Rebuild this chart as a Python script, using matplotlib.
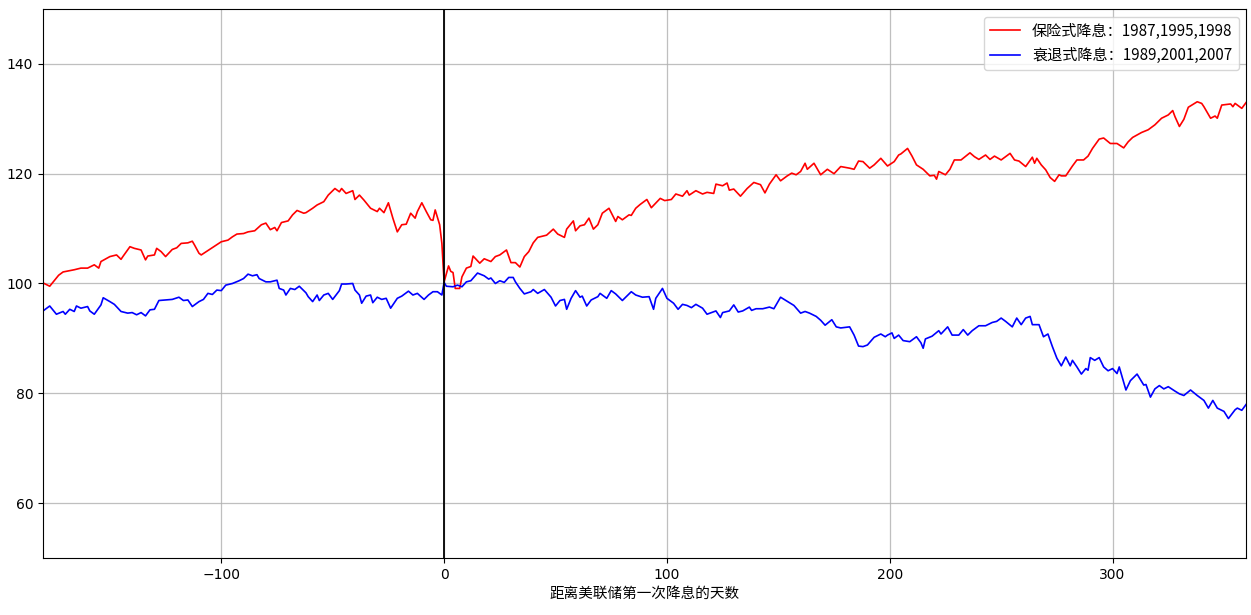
import matplotlib
matplotlib.use("Agg")
import matplotlib.pyplot as plt

plt.rcParams['font.family'] = ['DejaVu Sans', 'Noto Sans CJK SC']
plt.rcParams['axes.unicode_minus'] = True

insurance_label = "保险式降息：1987,1995,1998"
recession_label = "衰退式降息：1989,2001,2007"
x_label = "距离美联储第一次降息的天数"

ins_days = [-180, -177, -173, -171, -166, -163, -160, -157, -155, -154, -150, -147, -145, -144, -141, -139, -136, -134, -133, -130,
            -129, -127, -125, -122, -120, -118, -115, -113, -112, -110, -109, -106, -103, -100, -97, -95, -93, -90, -88, -85,
            -82, -80, -78, -76, -75, -73, -70, -68, -66, -63, -62, -59, -57, -54, -52, -49, -47, -46, -44, -41,
            -40, -38, -36, -33, -30, -29, -27, -25, -23, -21, -19, -17, -15, -13, -12, -10, -8, -6, -5, -4,
            -2, -1, 0, 2, 3, 4, 5, 7, 8, 10, 12, 13, 16, 18, 21, 23, 25, 28, 30, 32,
            34, 36, 38, 40, 42, 46, 49, 51, 54, 55, 58, 59, 61, 63, 65, 67, 69, 71, 74, 77,
            78, 80, 83, 84, 86, 88, 91, 93, 97, 99, 102, 104, 107, 109, 110, 113, 116, 118, 121, 122,
            125, 127, 128, 130, 133, 136, 139, 142, 144, 146, 149, 151, 154, 156, 158, 160, 162, 163, 166, 169,
            172, 175, 178, 182, 184, 186, 188, 191, 193, 196, 199, 202, 204, 205, 208, 210, 212, 215, 218, 220,
            221, 222, 225, 227, 229, 232, 236, 238, 240, 243, 245, 247, 250, 254, 256, 258, 261, 264, 265, 266,
            268, 270, 272, 274, 276, 277, 279, 282, 284, 287, 289, 291, 294, 296, 299, 302, 305, 307, 309, 313,
            316, 319, 322, 325, 327, 328, 330, 332, 334, 338, 340, 341, 344, 346, 347, 349, 353, 354, 355, 358, 360]
ins_vals = [100.1, 99.5, 101.5, 102.1, 102.5, 102.8, 102.8, 103.4, 102.8, 104.0, 104.9, 105.2, 104.4, 105.0, 106.7, 106.4, 106.1, 104.3, 105.0, 105.2,
            106.4, 105.8, 104.9, 106.2, 106.5, 107.3, 107.4, 107.7, 107.0, 105.5, 105.2, 106.0, 106.8, 107.6, 107.9, 108.5, 109.0, 109.1, 109.4, 109.6,
            110.7, 111.0, 109.8, 110.2, 109.6, 111.1, 111.4, 112.5, 113.3, 112.8, 112.9, 113.7, 114.3, 114.9, 116.1, 117.3, 116.7, 117.3, 116.4, 116.9,
            115.3, 116.1, 115.2, 113.7, 113.1, 113.7, 112.9, 114.7, 111.9, 109.4, 110.7, 110.8, 112.8, 111.9, 113.1, 114.7, 113.1, 111.6, 111.5, 113.4,
            110.7, 107.3, 100.3, 103.2, 102.2, 102.0, 99.1, 99.1, 101.2, 102.8, 103.1, 105.0, 103.7, 104.5, 104.0, 104.9, 105.2, 106.1, 103.8, 103.8,
            103.0, 104.9, 105.8, 107.4, 108.4, 108.8, 109.9, 109.0, 108.4, 109.9, 111.4, 109.6, 110.5, 110.7, 111.9, 109.9, 110.7, 112.8, 113.7, 111.3,
            112.2, 111.6, 112.5, 112.4, 113.7, 114.4, 115.3, 113.8, 115.5, 115.1, 115.3, 116.3, 115.9, 116.9, 116.1, 116.9, 116.3, 116.6, 116.4, 118.1,
            117.8, 118.3, 117.0, 117.2, 115.9, 117.3, 118.4, 118.0, 116.5, 118.1, 119.8, 118.7, 119.6, 120.1, 119.8, 120.4, 121.9, 120.8, 121.9, 119.8,
            120.8, 120.0, 121.3, 121.0, 120.8, 122.3, 122.2, 121.0, 121.6, 122.8, 121.4, 122.2, 123.4, 123.6, 124.6, 123.2, 121.6, 120.8, 119.6, 119.7,
            119.0, 120.4, 119.8, 120.8, 122.5, 122.5, 123.8, 123.1, 122.6, 123.4, 122.6, 123.2, 122.5, 123.7, 122.5, 122.3, 121.3, 123.0, 121.9, 122.8,
            121.6, 120.7, 119.3, 118.6, 119.8, 119.6, 119.6, 121.4, 122.5, 122.5, 123.2, 124.6, 126.3, 126.5, 125.5, 125.5, 124.7, 125.8, 126.6, 127.5,
            128.0, 128.9, 130.1, 130.7, 131.5, 130.4, 128.6, 129.9, 132.1, 133.1, 132.8, 132.2, 130.1, 130.5, 130.1, 132.5, 132.7, 132.2, 132.8, 131.9, 133.0]

rec_days = [-180, -177, -174, -171, -170, -168, -166, -165, -163, -160, -159, -157, -154, -153, -150, -148, -145, -142, -140, -138,
            -136, -134, -132, -130, -128, -125, -122, -119, -117, -115, -113, -110, -108, -106, -104, -102, -100, -98, -95, -92,
            -90, -88, -86, -84, -83, -80, -78, -75, -74, -72, -71, -69, -67, -65, -62, -61, -59, -57, -56, -54,
            -52, -50, -47, -46, -44, -41, -40, -38, -37, -35, -33, -32, -30, -28, -26, -24, -21, -19, -16, -14,
            -12, -9, -7, -5, -3, -1, 0, 1, 4, 6, 8, 10, 12, 15, 18, 20, 21, 23, 25, 27,
            29, 31, 32, 34, 36, 39, 40, 42, 45, 48, 50, 52, 54, 55, 57, 59, 61, 62, 64, 66,
            69, 70, 72, 73, 75, 77, 80, 82, 84, 86, 89, 92, 94, 95, 98, 100, 103, 105, 107, 109,
            111, 113, 116, 118, 120, 122, 124, 125, 128, 130, 132, 134, 137, 138, 140, 143, 146, 148, 151, 153,
            155, 157, 160, 162, 164, 167, 169, 171, 174, 176, 178, 182, 184, 186, 188, 190, 193, 196, 198, 199,
            201, 202, 204, 206, 209, 212, 214, 215, 216, 219, 222, 223, 226, 228, 231, 233, 235, 237, 240, 243,
            246, 248, 250, 252, 255, 257, 259, 261, 263, 264, 267, 269, 271, 273, 275, 277, 279, 281, 282, 284,
            286, 288, 289, 290, 292, 294, 296, 298, 300, 302, 303, 306, 308, 311, 314, 315, 317, 319, 321, 323,
            325, 328, 330, 332, 335, 338, 341, 343, 345, 347, 350, 352, 355, 356, 358, 360]
rec_vals = [95.0, 95.9, 94.4, 94.9, 94.4, 95.3, 94.9, 95.9, 95.5, 95.8, 95.0, 94.4, 96.1, 97.4, 96.7, 96.2, 94.9, 94.6, 94.7, 94.3,
            94.7, 94.1, 95.2, 95.3, 96.9, 97.0, 97.1, 97.5, 96.9, 97.0, 95.8, 96.7, 97.1, 98.2, 98.0, 98.8, 98.7, 99.7, 100.0, 100.5,
            100.9, 101.7, 101.4, 101.6, 100.9, 100.3, 100.3, 100.6, 99.1, 98.8, 97.9, 99.1, 98.9, 99.5, 98.3, 97.6, 96.7, 97.9, 96.9, 97.9,
            98.2, 97.1, 98.7, 99.9, 99.9, 100.0, 98.8, 97.9, 96.4, 97.7, 97.9, 96.5, 97.5, 97.1, 97.3, 95.5, 97.3, 97.7, 98.6, 97.9,
            98.2, 97.1, 97.9, 98.5, 98.5, 97.9, 100.2, 99.5, 99.4, 99.7, 99.4, 100.3, 100.5, 101.9, 101.4, 100.8, 101.0, 100.0, 100.5, 100.2,
            101.1, 101.1, 100.3, 99.1, 98.1, 98.5, 98.9, 98.2, 98.9, 97.5, 95.9, 96.9, 97.1, 95.3, 97.3, 98.7, 97.5, 97.7, 95.9, 97.0,
            97.6, 98.2, 97.6, 97.3, 98.7, 98.1, 96.9, 97.7, 98.5, 97.9, 97.5, 97.6, 95.3, 97.3, 99.1, 97.3, 96.4, 95.3, 96.2, 96.0,
            95.6, 96.2, 95.5, 94.4, 94.7, 95.0, 93.8, 94.7, 95.0, 96.1, 94.8, 95.0, 95.7, 95.1, 95.4, 95.4, 95.7, 95.4, 97.5, 97.0,
            96.5, 96.0, 94.6, 94.9, 94.6, 94.0, 93.3, 92.4, 93.4, 92.1, 91.9, 92.1, 90.6, 88.6, 88.5, 88.8, 90.2, 90.8, 90.3, 90.6,
            91.0, 90.0, 90.6, 89.6, 89.4, 90.3, 89.2, 88.2, 89.9, 90.4, 91.4, 90.8, 92.1, 90.6, 90.6, 91.6, 90.6, 91.4, 92.3, 92.3,
            92.9, 93.1, 93.7, 93.1, 92.1, 93.7, 92.5, 93.7, 94.0, 92.5, 92.5, 90.3, 90.8, 88.5, 86.4, 85.0, 86.6, 85.0, 86.0, 84.8,
            83.5, 84.5, 84.2, 86.5, 86.0, 86.5, 84.8, 84.1, 84.5, 83.6, 84.8, 80.6, 82.3, 83.5, 81.5, 81.6, 79.3, 80.8, 81.4, 80.8,
            81.2, 80.4, 79.9, 79.6, 80.6, 79.6, 78.7, 77.3, 78.7, 77.3, 76.7, 75.4, 77.0, 77.3, 76.9, 78.0]

x_ticks = [-100, 0, 100, 200, 300]
y_ticks = [60, 80, 100, 120, 140]

fig = plt.figure(figsize=(12.51, 6.15), dpi=100)
ax = fig.add_axes([0.0344, 0.0927, 0.9618, 0.8927])

ax.plot(ins_days, ins_vals, color='red', lw=1.2, label=insurance_label)
ax.plot(rec_days, rec_vals, color='blue', lw=1.2, label=recession_label)
ax.axvline(0, color='black', lw=1.3)

ax.set_xlim(-180, 360)
ax.set_ylim(50, 150)
ax.set_xticks(x_ticks)
ax.set_yticks(y_ticks)
ax.grid(True, color='#b0b0b0', lw=0.9, alpha=0.8)
ax.tick_params(labelsize=10)
ax.set_xlabel(x_label, fontsize=10.5, labelpad=4, family=['Noto Sans CJK SC', 'DejaVu Sans'])
ax.legend(loc='upper right', handlelength=2.0,
          prop={'family': ['Noto Sans CJK SC', 'DejaVu Sans'], 'size': 10.9})

fig.savefig("out.png", dpi=100)
